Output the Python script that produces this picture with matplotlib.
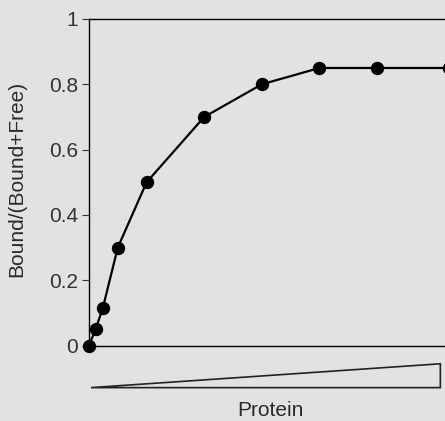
import numpy as np
import matplotlib.pyplot as plt
from matplotlib.patches import Polygon

plt.rcParams['font.family'] = ['Liberation Sans', 'DejaVu Sans']

# protein amount (arbitrary units) and fraction bound
protein = [0, 0.23, 0.48, 1, 2, 4, 6, 8, 10, 12.5]
fraction = [0, 0.05, 0.115, 0.3, 0.5, 0.7, 0.8, 0.85, 0.85, 0.85]
yticks = [0, 0.2, 0.4, 0.6, 0.8, 1]
yticklabels = ['0', '0.2', '0.4', '0.6', '0.8', '1']

# wedge under the x axis (data units of the main axes)
wedge_x = [0.07, 12.2]
wedge_y = [-0.129, -0.056]

bg = '#e1e2e4'
W, H = 445, 421
fig = plt.figure(figsize=(W / 100, H / 100), dpi=100, facecolor=bg)

x0, y0, y1 = 89, 345.5, 19
unit = 28.8
xmax = 13
ax_w = xmax * unit
ax = fig.add_axes([x0 / W, (H - y0) / H, ax_w / W, (y0 - y1) / H])
ax.set_facecolor(bg)

ax.plot(protein, fraction, '-o', color='black', lw=1.6, ms=8.6,
        clip_on=False, zorder=5)

ax.set_xlim(0, xmax)
ax.set_ylim(0, 1)
ax.set_xticks([])
ax.set_yticks(yticks)
ax.set_yticklabels(yticklabels)
ax.tick_params(axis='y', direction='out', length=5, width=0.8,
               labelsize=15, pad=3, colors='#333333', labelcolor='#333333')
for s in ['left', 'bottom', 'top']:
    ax.spines[s].set_linewidth(1.0)
    ax.spines[s].set_color('black')
ax.spines['right'].set_visible(False)

ax.set_ylabel('Bound/(Bound+Free)', fontsize=15, color='#2a2a2a')
ax.yaxis.set_label_coords((26 - x0) / ax_w, (y0 - 179) / (y0 - y1))

tri = Polygon([[wedge_x[0], wedge_y[0]], [wedge_x[1], wedge_y[1]],
               [wedge_x[1], wedge_y[0]]], closed=True, fill=False,
              edgecolor='#222222', lw=1.2, clip_on=False)
ax.add_patch(tri)

fig.text(270 / W, 1 - 411 / H, 'Protein', ha='center', va='center',
         fontsize=15, color='#2a2a2a')

fig.savefig('out.png', dpi=100, facecolor=bg)
